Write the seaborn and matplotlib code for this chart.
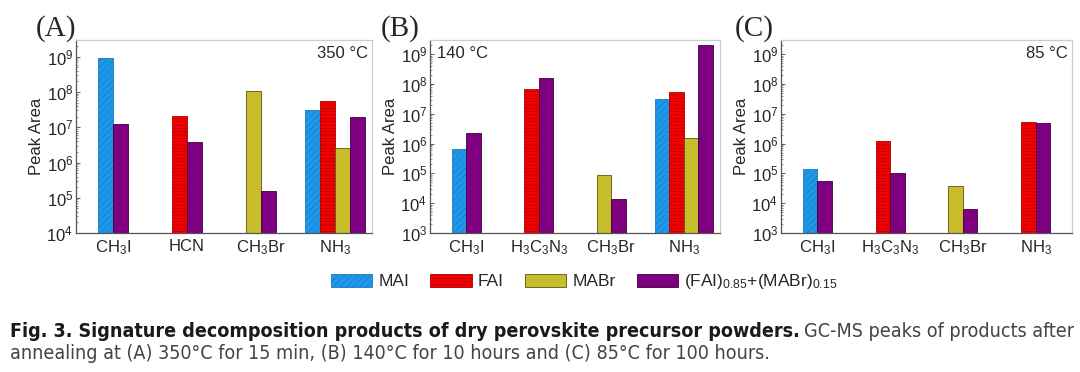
import numpy as np
import pandas as pd
import matplotlib
matplotlib.use('Agg')
import matplotlib.pyplot as plt
import matplotlib.ticker as mticker
from matplotlib.patches import Patch
from matplotlib.colors import to_hex
import seaborn as sns

nan = np.nan

# -- -- -- -- --    data -- -- -- -- --

series = ['MAI', 'FAI', 'MABr', 'Mix']
legend_labels = ['MAI', 'FAI', 'MABr', r'(FAI)$_{0.85}$+(MABr)$_{0.15}$']

labels_a = [r'$\mathregular{CH_3I}$', 'HCN', r'$\mathregular{CH_3Br}$', r'$\mathregular{NH_3}$']
labels_bc = [r'$\mathregular{CH_3I}$', r'$\mathregular{H_3C_3N_3}$', r'$\mathregular{CH_3Br}$', r'$\mathregular{NH_3}$']

# (A) 350 C
mai_a = [9.0e8, nan, nan, 3.1e7]
fai_a = [nan, 2.1e7, nan, 5.6e7]
mabr_a = [nan, nan, 1.07e8, 2.6e6]
mix_a = [1.2e7, 3.7e6, 1.6e5, 2.0e7]

# (B) 140 C
mai_b = [6.6e5, nan, nan, 3.2e7]
fai_b = [nan, 6.8e7, nan, 5.6e7]
mabr_b = [nan, nan, 8.9e4, 1.6e6]
mix_b = [2.3e6, 1.65e8, 1.4e4, 2.0e9]

# (C) 85 C
mai_c = [1.4e5, nan, nan, nan]
fai_c = [nan, 1.2e6, nan, 5.2e6]
mabr_c = [nan, nan, 3.8e4, nan]
mix_c = [5.6e4, 1.05e5, 6.2e3, 5.1e6]

face = {'MAI': '#1E98EA', 'FAI': '#F50000', 'MABr': '#C8BE2C', 'Mix': '#7E0080'}
edge = {'MAI': '#1A78C0', 'FAI': '#B00000', 'MABr': '#5A5410', 'Mix': '#3C003C'}
hatch = {'MAI': '/////', 'FAI': '-----', 'MABr': '', 'Mix': ''}

# -- -- -- -- --    style -- -- -- -- --

sns.set_style('white')
plt.rcParams['font.family'] = ['Liberation Sans', 'DejaVu Sans']
plt.rcParams['mathtext.fontset'] = 'custom'
plt.rcParams['mathtext.rm'] = 'Liberation Sans'
plt.rcParams['mathtext.it'] = 'Liberation Sans:italic'
plt.rcParams['mathtext.bf'] = 'Liberation Sans:bold'
plt.rcParams['hatch.linewidth'] = 0.5


def long_table(cols):
    # only the bars that exist are drawn, packed side by side round the group centre
    rows = []
    bw = 0.2
    for g in range(4):
        present = [s for s, c in zip(series, cols) if not np.isnan(c[g])]
        n = len(present)
        for i, s in enumerate(present):
            val = cols[series.index(s)][g]
            rows.append({'pos': g + (i - (n - 1) / 2) * bw, 'value': val, 'series': s})
    return pd.DataFrame(rows)


def panel(ax, cols, labels, ymin, temp, temp_side):
    df = long_table(cols)
    sns.barplot(data=df, x='pos', y='value', hue='series', hue_order=series,
                palette=face, saturation=1, native_scale=True, dodge=False, width=1,
                errorbar=None, legend=False, ax=ax)
    lookup = {to_hex(face[s]): s for s in series}
    for p in ax.patches:
        s = lookup.get(to_hex(p.get_facecolor()))
        if s is None:
            continue
        p.set_edgecolor(edge[s])
        p.set_linewidth(0.6)
        p.set_hatch(hatch[s])
    ax.set_yscale('log')
    ax.set_ylim(ymin, 3e9)
    ax.set_xlim(-0.5, 3.5)
    ax.set_xticks(range(4))
    ax.set_xticklabels(labels, fontsize=12)
    ax.set_xlabel('')
    ax.set_ylabel('Peak Area', fontsize=12, labelpad=2)
    ax.yaxis.set_major_locator(mticker.LogLocator(base=10, numticks=12))
    ax.yaxis.set_minor_locator(mticker.LogLocator(base=10, subs=np.arange(2, 10), numticks=12))
    ax.yaxis.set_minor_formatter(mticker.NullFormatter())
    ax.tick_params(axis='y', which='major', direction='in', length=3, width=0.6,
                   labelsize=12, left=True, pad=2, color='#444444')
    ax.tick_params(axis='y', which='minor', direction='in', length=1.5, width=0.5,
                   left=True, color='#666666')
    ax.tick_params(axis='x', direction='in', length=3, width=0.6, bottom=True,
                   pad=4, color='#444444')
    for side in ['left', 'bottom']:
        ax.spines[side].set_color('#555555')
        ax.spines[side].set_linewidth(0.9)
    for side in ['top', 'right']:
        ax.spines[side].set_color('#cccccc')
        ax.spines[side].set_linewidth(0.9)
    if temp_side == 'right':
        ax.text(0.985, 0.93, temp, transform=ax.transAxes, ha='right', va='center', fontsize=12)
    else:
        ax.text(0.025, 0.93, temp, transform=ax.transAxes, ha='left', va='center', fontsize=12)


fig = plt.figure(figsize=(10.8, 3.72), dpi=100)
ax_a = fig.add_axes([0.0704, 0.3737, 0.2740, 0.5188])
ax_b = fig.add_axes([0.3981, 0.3737, 0.2685, 0.5188])
ax_c = fig.add_axes([0.7231, 0.3737, 0.2694, 0.5188])

panel(ax_a, [mai_a, fai_a, mabr_a, mix_a], labels_a, 1e4, '350 \u00b0C', 'right')
panel(ax_b, [mai_b, fai_b, mabr_b, mix_b], labels_bc, 1e3, '140 \u00b0C', 'left')
panel(ax_c, [mai_c, fai_c, mabr_c, mix_c], labels_bc, 1e3, '85 \u00b0C', 'right')

for x, lab in [(0.052, '(A)'), (0.371, '(B)'), (0.698, '(C)')]:
    fig.text(x, 0.922, lab, ha='center', va='center', fontsize=21, family='Liberation Serif')

handles = [Patch(facecolor=face[s], edgecolor=edge[s], hatch=hatch[s], linewidth=0.6) for s in series]
fig.legend(handles, legend_labels, loc='center', bbox_to_anchor=(0.541, 0.242), ncol=4,
           frameon=False, fontsize=12.5, handlelength=2.4, handleheight=0.8,
           columnspacing=1.2, handletextpad=0.35)

# caption: bold lead sentence followed by the regular text, shrunk to span the figure width
cap = dict(family='DejaVu Sans', fontstretch='condensed')
size = 13.0
t1 = fig.text(0.009, 0.110, 'Fig. 3. Signature decomposition products of dry perovskite precursor powders.',
              ha='left', va='center', fontsize=size, fontweight='bold', color='#1a1a1a', **cap)
t2 = fig.text(0.5, 0.110, 'GC-MS peaks of products after',
              ha='left', va='center', fontsize=size, color='#444444', **cap)
t3 = fig.text(0.009, 0.051,
              'annealing at (A) 350\u00b0C for 15 min, (B) 140\u00b0C for 10 hours and (C) 85\u00b0C for 100 hours.',
              ha='left', va='center', fontsize=size, color='#444444', **cap)
fig.canvas.draw()
r = fig.canvas.get_renderer()
total = t1.get_window_extent(r).width + 5 + t2.get_window_extent(r).width
size = size * 1062 / total
for t in (t1, t2, t3):
    t.set_fontsize(size)
fig.canvas.draw()
bb = t1.get_window_extent(r)
t2.set_x((bb.x1 + 5) / fig.bbox.width)

fig.savefig('out.png', dpi=100)
